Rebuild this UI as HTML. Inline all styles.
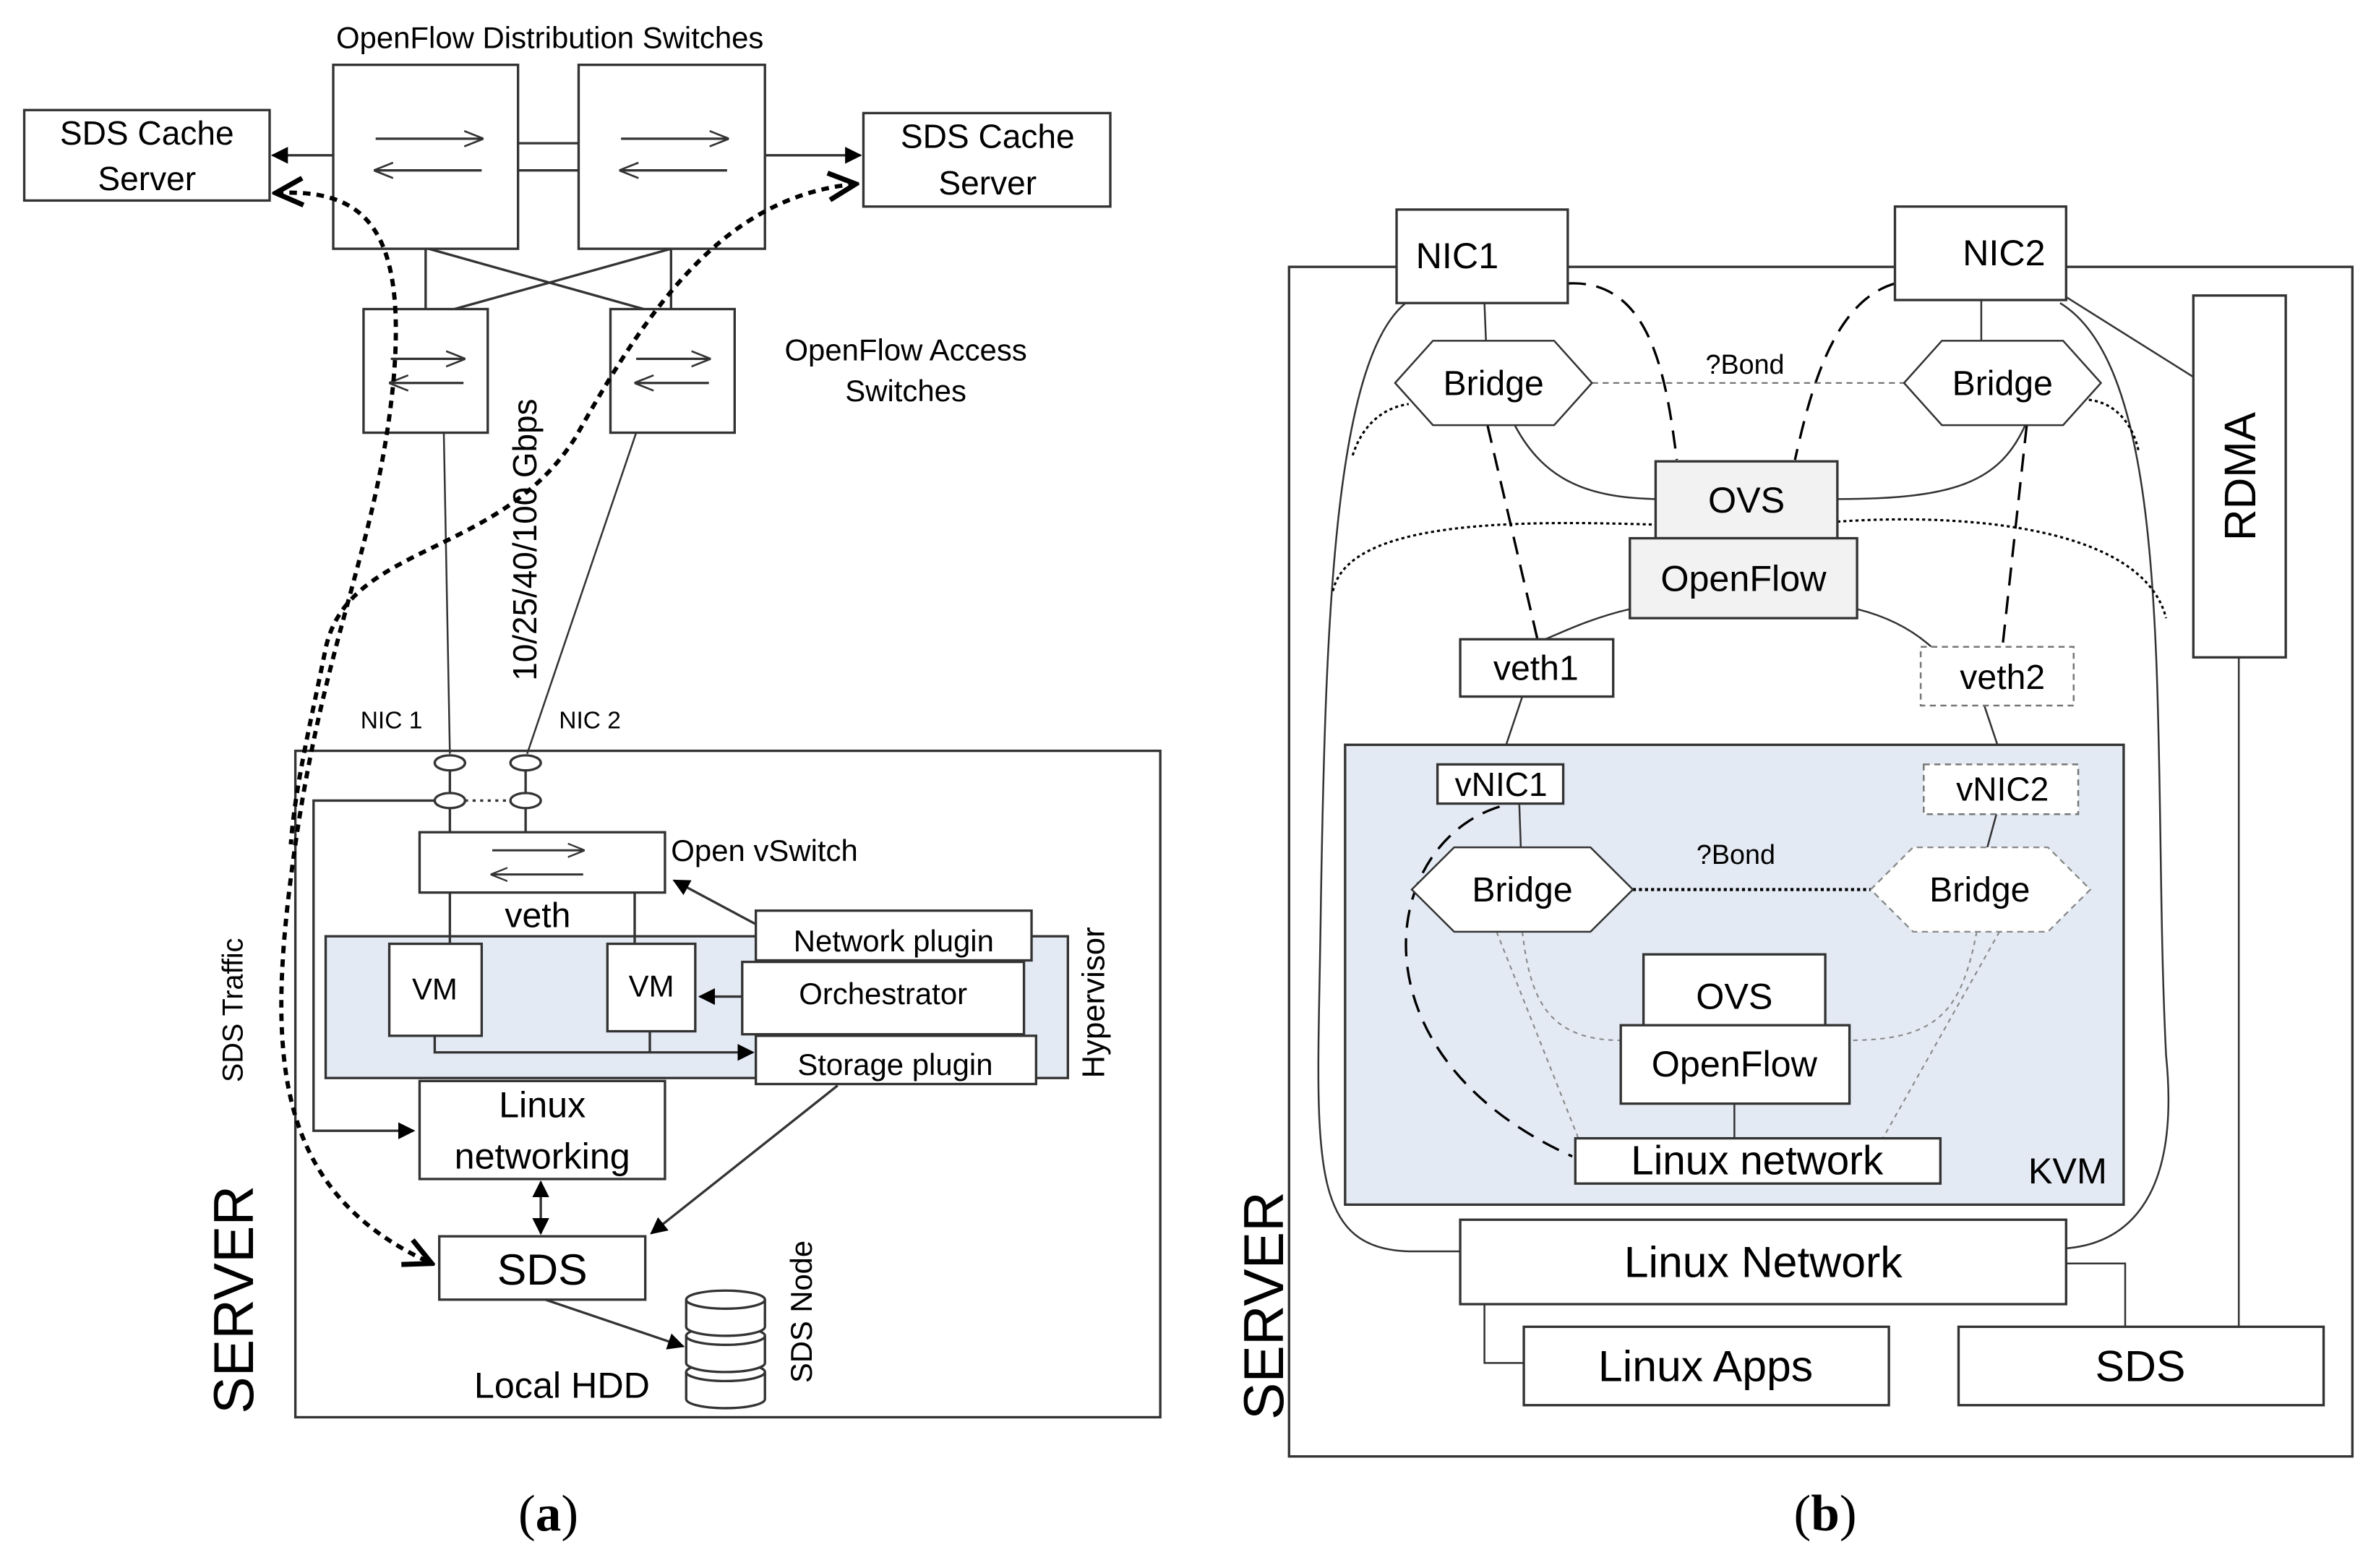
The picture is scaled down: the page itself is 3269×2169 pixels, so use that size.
<!DOCTYPE html>
<html><head><meta charset="utf-8"><style>
html,body{margin:0;padding:0;background:#fff;}
svg{display:block;}
text{font-family:"Liberation Sans",Arial,sans-serif;fill:#000;}
</style></head><body>
<svg width="3269" height="2169" viewBox="0 0 1560 1040" preserveAspectRatio="none" xmlns="http://www.w3.org/2000/svg">
<defs>
<marker id="fa" viewBox="0 0 10 10" refX="9" refY="5" markerWidth="7" markerHeight="7" orient="auto-start-reverse"><path d="M0,0 L10,5 L0,10 z" fill="#000"/></marker>
<marker id="oa" viewBox="0 0 10 10" refX="9" refY="5" markerWidth="8" markerHeight="8" orient="auto-start-reverse"><path d="M1,1 L9,5 L1,9" fill="none" stroke="#000" stroke-width="1.5"/></marker>
<marker id="sa" viewBox="0 0 10 10" refX="9" refY="5" markerWidth="8" markerHeight="8" orient="auto"><path d="M0,1 L10,5 L0,9" fill="none" stroke="#333" stroke-width="1"/></marker>
</defs>
<g stroke="#333" stroke-width="1.6" fill="none">
<!-- (a) -->
<text x="363" y="32" font-size="20" text-anchor="middle" stroke="none">OpenFlow Distribution Switches</text>
<rect x="220" y="43" width="122" height="122" fill="#fff"/>
<rect x="382" y="43" width="123" height="122" fill="#fff"/>
<line x1="342" y1="95" x2="382" y2="95"/><line x1="342" y1="113" x2="382" y2="113"/>
<g stroke-width="1.6" stroke="#333">
<line x1="248" y1="92" x2="318" y2="92" marker-end="url(#sa)"/><line x1="318" y1="113" x2="248" y2="113" marker-end="url(#sa)"/>
<line x1="410" y1="92" x2="480" y2="92" marker-end="url(#sa)"/><line x1="480" y1="113" x2="410" y2="113" marker-end="url(#sa)"/>
</g>
<rect x="16" y="73" width="162" height="60" fill="#fff"/>
<text x="97" y="96" font-size="22" text-anchor="middle" stroke="none">SDS Cache</text>
<text x="97" y="126" font-size="22" text-anchor="middle" stroke="none">Server</text>
<rect x="570" y="75" width="163" height="62" fill="#fff"/>
<text x="652" y="98" font-size="22" text-anchor="middle" stroke="none">SDS Cache</text>
<text x="652" y="129" font-size="22" text-anchor="middle" stroke="none">Server</text>
<line x1="220" y1="103" x2="180" y2="103" marker-end="url(#fa)"/>
<line x1="505" y1="103" x2="568" y2="103" marker-end="url(#fa)"/>
<line x1="281" y1="165" x2="281" y2="205"/><line x1="443" y1="165" x2="443" y2="205"/>
<line x1="283" y1="165" x2="425" y2="205"/><line x1="443" y1="165" x2="300" y2="205"/>
<rect x="240" y="205" width="82" height="82" fill="#fff"/>
<rect x="403" y="205" width="82" height="82" fill="#fff"/>
<g stroke-width="1.6" stroke="#333">
<line x1="258" y1="238" x2="306" y2="238" marker-end="url(#sa)"/><line x1="306" y1="254" x2="258" y2="254" marker-end="url(#sa)"/>
<line x1="420" y1="238" x2="468" y2="238" marker-end="url(#sa)"/><line x1="468" y1="254" x2="420" y2="254" marker-end="url(#sa)"/>
</g>
<text x="598" y="239" font-size="20" text-anchor="middle" stroke="none">OpenFlow Access</text>
<text x="598" y="266" font-size="20" text-anchor="middle" stroke="none">Switches</text>
<line x1="293" y1="287" x2="297" y2="500" stroke-width="1.2"/>
<line x1="420" y1="287" x2="348" y2="500" stroke-width="1.2"/>
<text transform="translate(354,358) rotate(-90)" font-size="22" text-anchor="middle" stroke="none">10/25/40/100  Gbps</text>
<text x="238" y="483" font-size="16" stroke="none">NIC 1</text>
<text x="369" y="483" font-size="16" stroke="none">NIC 2</text>
<rect x="195" y="498" width="571" height="442"/>
<ellipse cx="297" cy="506" rx="10" ry="5" fill="#fff"/><ellipse cx="347" cy="506" rx="10" ry="5" fill="#fff"/>
<line x1="297" y1="511" x2="297" y2="526"/><line x1="347" y1="511" x2="347" y2="526"/>
<line x1="307" y1="531" x2="337" y2="531" stroke-dasharray="2,3"/>
<ellipse cx="297" cy="531" rx="10" ry="5" fill="#fff"/><ellipse cx="347" cy="531" rx="10" ry="5" fill="#fff"/>
<line x1="297" y1="536" x2="297" y2="552"/><line x1="347" y1="536" x2="347" y2="552"/>
<polyline points="287,531 207,531 207,750 273,750" marker-end="url(#fa)"/>
<rect x="215" y="621" width="490" height="94" fill="#e4eaf4"/>
<rect x="277" y="552" width="162" height="40" fill="#fff"/>
<g stroke-width="1.4" stroke="#333">
<line x1="325" y1="564" x2="385" y2="564" marker-end="url(#sa)"/><line x1="385" y1="580" x2="325" y2="580" marker-end="url(#sa)"/>
</g>
<text x="443" y="571" font-size="20" stroke="none">Open vSwitch</text>
<text x="355" y="615" font-size="23" text-anchor="middle" stroke="none">veth</text>
<line x1="297" y1="592" x2="297" y2="626"/><line x1="419" y1="592" x2="419" y2="626"/>
<rect x="257" y="626" width="61" height="61" fill="#fff"/><text x="287" y="663" font-size="20" text-anchor="middle" stroke="none">VM</text>
<rect x="401" y="626" width="58" height="58" fill="#fff"/><text x="430" y="661" font-size="20" text-anchor="middle" stroke="none">VM</text>
<rect x="490" y="638" width="186" height="48" fill="#fff"/><text x="583" y="666" font-size="20" text-anchor="middle" stroke="none">Orchestrator</text>
<rect x="499" y="604" width="182" height="33" fill="#fff"/><text x="590" y="631" font-size="20" text-anchor="middle" stroke="none">Network plugin</text>
<rect x="499" y="687" width="185" height="32" fill="#fff"/><text x="591" y="713" font-size="20" text-anchor="middle" stroke="none">Storage plugin</text>
<line x1="499" y1="613" x2="445" y2="584" marker-end="url(#fa)"/>
<line x1="490" y1="661" x2="462" y2="661" marker-end="url(#fa)"/>
<polyline points="287,687 287,698 497,698" marker-end="url(#fa)"/>
<line x1="429" y1="684" x2="429" y2="698"/>
<text transform="translate(729,665) rotate(-90)" font-size="21" text-anchor="middle" stroke="none">Hypervisor</text>
<rect x="277" y="717" width="162" height="65" fill="#fff"/>
<text x="358" y="741" font-size="24" text-anchor="middle" stroke="none">Linux</text>
<text x="358" y="775" font-size="24" text-anchor="middle" stroke="none">networking</text>
<line x1="357" y1="784" x2="357" y2="818" marker-end="url(#fa)" marker-start="url(#fa)"/>
<rect x="290" y="820" width="136" height="42" fill="#fff"/>
<text x="358" y="852" font-size="29" text-anchor="middle" stroke="none">SDS</text>
<line x1="553" y1="720" x2="430" y2="818" marker-end="url(#fa)"/>
<line x1="360" y1="862" x2="451" y2="893" marker-end="url(#fa)"/>
<g fill="#fff">
<path d="M453,910 v18 a26,6 0 0 0 52,0 v-18"/><ellipse cx="479" cy="910" rx="26" ry="6"/>
<path d="M453,886 v18 a26,6 0 0 0 52,0 v-18"/><ellipse cx="479" cy="886" rx="26" ry="6"/>
<path d="M453,862 v18 a26,6 0 0 0 52,0 v-18"/><ellipse cx="479" cy="862" rx="26" ry="6"/>
</g>
<text x="313" y="927" font-size="24" stroke="none">Local HDD</text>
<text transform="translate(536,870) rotate(-90)" font-size="20" text-anchor="middle" stroke="none">SDS Node</text>
<text transform="translate(167,862) rotate(-90)" font-size="37" text-anchor="middle" stroke="none">SERVER</text>
<text transform="translate(160,670) rotate(-90)" font-size="19" text-anchor="middle" stroke="none">SDS Traffic</text>
<g stroke="#000" stroke-width="2.8" stroke-dasharray="5,4">
<path d="M182,128 C240,125 268,150 260,250 C250,360 215,420 195,560 C175,700 180,790 285,838" marker-end="url(#oa)" marker-start="url(#oa)"/>
<path d="M565,122 C480,130 430,200 380,290 C330,370 230,360 215,430 C205,480 195,520 192,560" marker-start="url(#oa)"/>
</g>
<text x="362" y="1015" font-size="34" text-anchor="middle" stroke="none" style="font-family:'Liberation Serif',serif">(<tspan font-weight="bold">a</tspan>)</text>

<!-- (b) -->
<rect x="851" y="177" width="702" height="789"/>
<g stroke-width="1.2">
<path d="M928,201 C880,240 875,420 872,600 C870,760 860,828 930,830 L964,830"/>
<path d="M1360,201 C1440,250 1420,500 1430,700 C1440,800 1400,825 1364,828"/>
<line x1="1364" y1="197" x2="1448" y2="250"/>
<line x1="1478" y1="436" x2="1478" y2="880"/>
<polyline points="1364,838 1403,838 1403,880"/>
<polyline points="980,865 980,904 1006,904"/>
<line x1="980" y1="201" x2="981" y2="226"/><line x1="1308" y1="199" x2="1308" y2="226"/>
<path d="M1000,282 C1020,320 1050,330 1093,331"/>
<path d="M1337,282 C1320,320 1290,331 1213,331"/>
<path d="M1076,404 C1050,410 1030,420 1020,424"/>
<path d="M1226,404 C1250,410 1265,420 1275,429"/>
<line x1="1005" y1="462" x2="990" y2="507"/>
<line x1="1310" y1="468" x2="1323" y2="507"/>
</g>
<g stroke-width="1.6" stroke-dasharray="12,7" stroke="#000">
<path d="M1035,188 C1090,185 1100,250 1107,305"/>
<path d="M1251,188 C1210,200 1195,260 1185,305"/>
<line x1="982" y1="282" x2="1015" y2="424"/>
<line x1="1338" y1="282" x2="1322" y2="429"/>
</g>
<g stroke-width="1.5" stroke-dasharray="2,2" stroke="#000">
<path d="M893,302 C900,280 915,270 930,268"/>
<path d="M1375,265 C1395,265 1408,280 1412,300"/>
<path d="M880,392 C890,345 1000,345 1093,348"/>
<path d="M1213,346 C1300,340 1415,350 1430,410"/>
</g>
<line x1="1051" y1="254" x2="1257" y2="254" stroke-width="1" stroke-dasharray="4,3" stroke="#666"/>
<rect x="922" y="139" width="113" height="62" fill="#fff"/>
<text x="962" y="178" font-size="24" text-anchor="middle" stroke="none">NIC1</text>
<rect x="1251" y="137" width="113" height="62" fill="#fff"/>
<text x="1323" y="176" font-size="24" text-anchor="middle" stroke="none">NIC2</text>
<rect x="1448" y="196" width="61" height="240" fill="#fff"/>
<text transform="translate(1489,316) rotate(-90)" font-size="29" text-anchor="middle" stroke="none">RDMA</text>
<polygon points="921,254 946,226 1026,226 1051,254 1026,282 946,282" fill="#fff" stroke-width="1.2"/>
<text x="986" y="262" font-size="23" text-anchor="middle" stroke="none">Bridge</text>
<polygon points="1257,254 1282,226 1362,226 1387,254 1362,282 1282,282" fill="#fff" stroke-width="1.2"/>
<text x="1322" y="262" font-size="23" text-anchor="middle" stroke="none">Bridge</text>
<text x="1152" y="248" font-size="18" text-anchor="middle" stroke="none">?Bond</text>
<rect x="1093" y="306" width="120" height="51" fill="#f2f2f2"/>
<text x="1153" y="340" font-size="24" text-anchor="middle" stroke="none">OVS</text>
<rect x="1076" y="357" width="150" height="53" fill="#f2f2f2"/>
<text x="1151" y="392" font-size="24" text-anchor="middle" stroke="none">OpenFlow</text>
<rect x="964" y="424" width="101" height="38" fill="#fff"/>
<text x="1014" y="451" font-size="23" text-anchor="middle" stroke="none">veth1</text>
<rect x="1268" y="429" width="101" height="39" fill="#fff" stroke-dasharray="4,3" stroke="#777" stroke-width="1.2"/>
<text x="1322" y="457" font-size="23" text-anchor="middle" stroke="none">veth2</text>
<rect x="888" y="494" width="514" height="305" fill="#e4eaf4"/>
<line x1="1003" y1="533" x2="1004" y2="562" stroke-width="1.2"/>
<line x1="1318" y1="540" x2="1312" y2="562" stroke-width="1.2"/>
<line x1="1145" y1="732" x2="1145" y2="755" stroke-width="1.2"/>
<g stroke="#888" stroke-width="1" stroke-dasharray="3,3">
<line x1="988" y1="618" x2="1042" y2="755"/>
<path d="M1005,618 C1010,660 1020,690 1070,690"/>
<line x1="1320" y1="618" x2="1243" y2="755"/>
<path d="M1305,618 C1295,670 1280,690 1221,690"/>
</g>
<g stroke-width="1.6" stroke-dasharray="12,7" stroke="#000">
<path d="M990,535 C910,560 890,700 1038,767"/>
</g>
<rect x="949" y="507" width="83" height="26" fill="#fff"/>
<text x="991" y="528" font-size="22" text-anchor="middle" stroke="none">vNIC1</text>
<rect x="1270" y="507" width="102" height="33" fill="#fff" stroke-dasharray="4,3" stroke="#777" stroke-width="1.2"/>
<text x="1322" y="531" font-size="22" text-anchor="middle" stroke="none">vNIC2</text>
<line x1="1078" y1="590" x2="1235" y2="590" stroke="#000" stroke-width="2" stroke-dasharray="2,2"/>
<polygon points="932,590 960,562 1050,562 1078,590 1050,618 960,618" fill="#fff" stroke-width="1.2"/>
<text x="1005" y="598" font-size="23" text-anchor="middle" stroke="none">Bridge</text>
<polygon points="1235,590 1263,562 1352,562 1380,590 1352,618 1263,618" fill="#fff" stroke="#888" stroke-width="1.1" stroke-dasharray="4,3"/>
<text x="1307" y="598" font-size="23" text-anchor="middle" stroke="none">Bridge</text>
<text x="1146" y="573" font-size="18" text-anchor="middle" stroke="none">?Bond</text>
<rect x="1085" y="633" width="120" height="47" fill="#fff"/>
<text x="1145" y="669" font-size="24" text-anchor="middle" stroke="none">OVS</text>
<rect x="1070" y="680" width="151" height="52" fill="#fff"/>
<text x="1145" y="714" font-size="24" text-anchor="middle" stroke="none">OpenFlow</text>
<rect x="1040" y="755" width="241" height="30" fill="#fff"/>
<text x="1160" y="779" font-size="27" text-anchor="middle" stroke="none">Linux network</text>
<text x="1365" y="785" font-size="24" text-anchor="middle" stroke="none">KVM</text>
<rect x="964" y="809" width="400" height="56" fill="#fff"/>
<text x="1164" y="847" font-size="29" text-anchor="middle" stroke="none">Linux Network</text>
<rect x="1006" y="880" width="241" height="52" fill="#fff"/>
<text x="1126" y="916" font-size="29" text-anchor="middle" stroke="none">Linux Apps</text>
<rect x="1293" y="880" width="241" height="52" fill="#fff"/>
<text x="1413" y="916" font-size="29" text-anchor="middle" stroke="none">SDS</text>
<text transform="translate(847,866) rotate(-90)" font-size="37" text-anchor="middle" stroke="none">SERVER</text>
<text x="1205" y="1015" font-size="34" text-anchor="middle" stroke="none" style="font-family:'Liberation Serif',serif">(<tspan font-weight="bold">b</tspan>)</text>
</g>
</svg>
</body></html>
